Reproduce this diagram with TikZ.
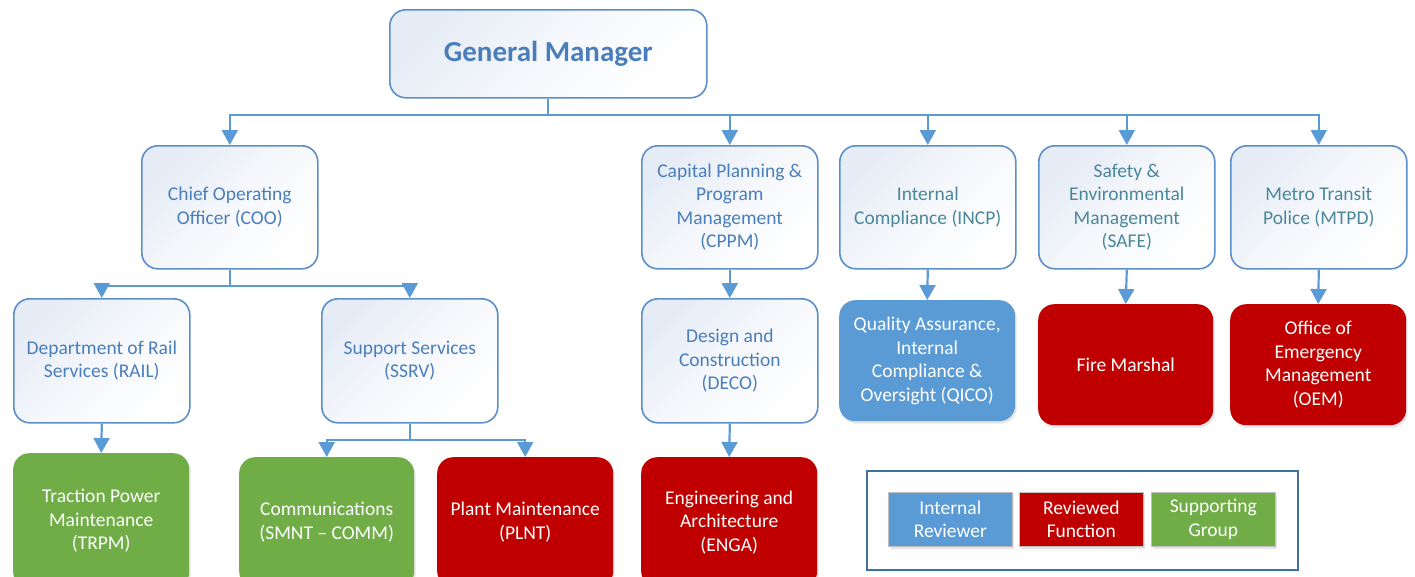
\documentclass[tikz,border=0pt]{standalone}
\usepackage{fontspec}
\setmainfont{Carlito}
\usetikzlibrary{arrows.meta,shadows}
\definecolor{lineblue}{HTML}{5B9BD5}
\definecolor{boxline}{HTML}{5B8FC9}
\definecolor{txtblue}{HTML}{4A7EBB}
\definecolor{txtteal}{HTML}{4A879B}
\definecolor{gradA}{HTML}{E6ECF6}
\definecolor{fillblue}{HTML}{5B9BD5}
\definecolor{fillred}{HTML}{C00000}
\definecolor{fillgreen}{HTML}{70AD47}
\definecolor{legline}{HTML}{41719C}
\tikzset{
  boxfont/.style={font=\fontsize{19.5}{23.5}\selectfont, align=center},
  wbox/.style={boxfont, anchor=north west, rounded corners=16pt, draw=boxline, line width=1.6pt,
    top color=gradA, bottom color=white, middle color=white!60!gradA, shading angle=45, text=txtblue, inner sep=0pt},
  cbox/.style={boxfont, anchor=north west, rounded corners=16pt, draw=none, fill=#1, text=white, inner sep=0pt,
    drop shadow={opacity=0.2, shadow xshift=1.5pt, shadow yshift=-2.5pt}},
  legbox/.style={boxfont, anchor=north west, draw=black!25, line width=0.6pt, fill=#1, text=white, inner sep=0pt,
    minimum width=124pt, minimum height=54pt,
    drop shadow={opacity=0.2, shadow xshift=1.5pt, shadow yshift=-2.5pt}},
  conn/.style={draw=lineblue, line width=2.2pt},
  arr/.style={conn, -{Triangle[width=16pt,length=15pt]}},
}
\begin{document}
\begin{tikzpicture}[x=1pt,y=-1pt]
\useasboundingbox (0,0) rectangle (1415,576);

% General manager
\node[wbox, minimum width=317pt, minimum height=88pt, font=\fontsize{29}{34}\selectfont\bfseries] (gm) at (389,9) {General Manager};

% Level 1
\node[wbox, minimum width=176pt, minimum height=123pt] (coo) at (141,145) {Chief Operating\\Officer (COO)};
\node[wbox, minimum width=176pt, minimum height=123pt] (cppm) at (641,145) {Capital Planning \&\\Program\\Management\\(CPPM)};
\node[wbox, minimum width=176pt, minimum height=123pt, text=txtteal] (incp) at (839,145) {Internal\\Compliance (INCP)};
\node[wbox, minimum width=176pt, minimum height=123pt, text=txtteal] (safe) at (1038,145) {Safety \&\\Environmental\\Management\\(SAFE)};
\node[wbox, minimum width=176pt, minimum height=123pt, text=txtteal] (mtpd) at (1230,145) {Metro Transit\\Police (MTPD)};

% Level 2
\node[wbox, minimum width=176pt, minimum height=124pt] (rail) at (13,298) {Department of Rail\\Services (RAIL)};
\node[wbox, minimum width=176pt, minimum height=124pt] (ssrv) at (321,298) {Support Services\\(SSRV)};
\node[wbox, minimum width=176pt, minimum height=124pt] (deco) at (641,298) {Design and\\Construction\\(DECO)};
\node[cbox=fillblue, minimum width=176pt, minimum height=121pt] (qico) at (839,300) {Quality Assurance,\\Internal\\Compliance \&\\Oversight (QICO)};
\node[cbox=fillred, minimum width=175pt, minimum height=121pt] (fire) at (1038,304) {Fire Marshal};
\node[cbox=fillred, minimum width=176pt, minimum height=121pt] (oem) at (1230,304) {Office of\\Emergency\\Management\\(OEM)};

% Level 3
\node[cbox=fillgreen, minimum width=176pt, minimum height=135pt] (trpm) at (13,453) {Traction Power\\Maintenance\\(TRPM)};
\node[cbox=fillgreen, minimum width=175pt, minimum height=130pt] (comm) at (239,457) {Communications\\(SMNT -- COMM)};
\node[cbox=fillred, minimum width=176pt, minimum height=130pt] (plnt) at (437,457) {Plant Maintenance\\(PLNT)};
\node[cbox=fillred, minimum width=176pt, minimum height=130pt] (enga) at (641,457) {Engineering and\\Architecture\\(ENGA)};

% Connectors
\draw[conn] (gm.south) -- ++(0,16) coordinate (b0);
\draw[arr] (b0) -| (coo.north);
\draw[arr] (b0) -| (cppm.north);
\draw[arr] (b0) -| (incp.north);
\draw[arr] (b0) -| (safe.north);
\draw[arr] (b0) -| (mtpd.north);

\draw[conn] (coo.south) -- ++(0,16) coordinate (c0);
\draw[arr] (c0) -| (rail.north);
\draw[arr] (c0) -| (ssrv.north);

\draw[conn] (ssrv.south) -- ++(0,16) coordinate (s0);
\draw[arr] (s0) -| (comm.north);
\draw[arr] (s0) -| (plnt.north);

\draw[arr] (rail.south) -- (trpm.north);
\draw[arr] (cppm.south) -- (deco.north);
\draw[arr] (deco.south) -- (enga.north);
\draw[arr] (incp.south) -- (qico.north);
\draw[arr] (safe.south) -- (fire.north);
\draw[arr] (mtpd.south) -- (oem.north);

% Legend
\node[anchor=north west, draw=legline, line width=1.5pt, fill=white, minimum width=431pt, minimum height=99pt, inner sep=0pt,
  drop shadow={opacity=0.12, shadow xshift=1.5pt, shadow yshift=-2.5pt}] (legend) at (866,470) {};
\node[legbox=fillblue] (lr) at (888,492) {Internal\\Reviewer};
\node[legbox=fillred] (lf) at (1019,492) {Reviewed\\Function};
\node[legbox=fillgreen] (lg) at (1151,492) {Supporting\\Group};
\end{tikzpicture}
\end{document}
